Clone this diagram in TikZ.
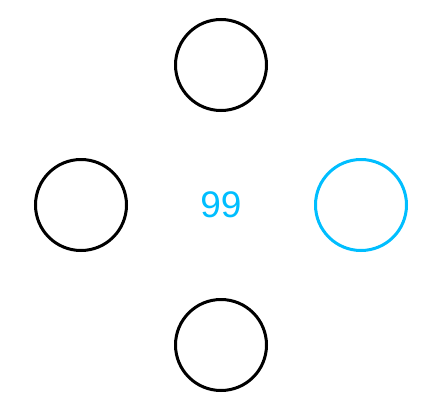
\documentclass[tikz,border=0pt]{standalone}
\usepackage{fontspec}
\setmainfont{Liberation Sans}
\usetikzlibrary{positioning}
\definecolor{figCeleste}{RGB}{0,190,255}
\tikzset{
  ranura/.style={
    circle, draw=black, line width=3pt, minimum size=91pt, inner sep=0pt
  },
  ranurasel/.style={ranura, draw=figCeleste},
  cuenta/.style={
    text=figCeleste, font=\fontsize{37}{40}\selectfont, inner sep=0pt
  }
}
\begin{document}
\begin{tikzpicture}[x=1pt, y=1pt]
  \useasboundingbox (0,0) rectangle (444,-415);
  \node[cuenta] (num) at (221,-205) {99};
  \node[ranura] (arriba) at (221,-65) {};
  \node[ranura] (izq) at (81,-205) {};
  \node[ranurasel] (der) at (361,-205) {};
  \node[ranura] (abajo) at (221,-345) {};
\end{tikzpicture}
\end{document}
